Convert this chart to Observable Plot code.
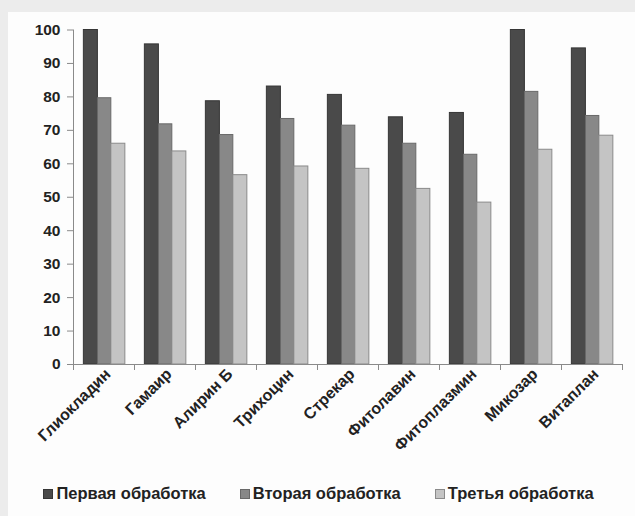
<!DOCTYPE html>
<html>
<head>
<meta charset="utf-8">
<script src="https://cdn.jsdelivr.net/npm/d3@7"></script>
<script src="https://cdn.jsdelivr.net/npm/@observablehq/plot@0.6"></script>
<style>
  html, body { margin: 0; padding: 0; background: #ececec; }
  body { width: 635px; height: 516px; overflow: hidden; position: relative; }
  #panel { position: absolute; left: 8px; top: 12px; width: 627px; height: 504px; background: #fdfdfd; }
  #legend { display: flex; justify-content: center; gap: 34px; margin-top: 6px; margin-left: -6px;
    font: bold 16.5px "Liberation Sans", Arial, sans-serif; color: #222; }
  #legend .item { display: flex; align-items: center; gap: 3px; }
  #legend .sw { width: 10px; height: 10px; box-sizing: border-box; border: 1px solid #666; }
</style>
</head>
<body>
<div id="panel"><div id="chart"></div><div id="legend"></div></div>
<script>
const categories = ["Глиокладин", "Гамаир", "Алирин Б", "Трихоцин", "Стрекар", "Фитолавин", "Фитоплазмин", "Микозар", "Витаплан"];
const series = ["Первая обработка", "Вторая обработка", "Третья обработка"];
const first = [100, 95.7, 78.7, 83.1, 80.6, 73.9, 75.2, 100, 94.5];
const second = [79.6, 71.8, 68.6, 73.4, 71.4, 66, 62.7, 81.5, 74.3];
const third = [66, 63.7, 56.6, 59.2, 58.5, 52.5, 48.4, 64.2, 68.4];
const yTicks = [0, 10, 20, 30, 40, 50, 60, 70, 80, 90, 100];

const fills = ["#4a4a4a", "#888888", "#c4c4c4"];
const strokes = ["#363636", "#696969", "#8a8a8a"];

const values = [first, second, third];
const rows = series.map((s, si) => categories.map((c, ci) => ({category: c, series: s, value: values[si][ci]})));

const W = 627, H = 466, ML = 65, MR = 13, MT = 17.5, MB = 114;
const bw = (W - ML - MR) / categories.length;
// bar slots within each category band (fractions of the band)
const slots = [[0.17, 0.40], [0.40, 0.62], [0.62, 0.85]];

const font = "'Liberation Sans', Arial, sans-serif";

const marks = [];
rows.forEach((data, si) => {
  marks.push(Plot.barY(data, {
    x: "category", y: "value",
    fill: fills[si], stroke: strokes[si], strokeWidth: 1,
    insetLeft: slots[si][0] * bw, insetRight: (1 - slots[si][1]) * bw
  }));
});
marks.push(Plot.ruleY([0], {stroke: "#8a8a8a"}));
marks.push(Plot.frame({anchor: "left", stroke: "#8a8a8a"}));
marks.push(Plot.axisY({ticks: yTicks, tickSize: 6, tickPadding: 7, stroke: "#8a8a8a",
  fontSize: 15.5, fontWeight: "bold", fill: "#222", label: null}));
marks.push(Plot.axisX({tickSize: 6, tickFormat: () => "", dx: -bw / 2, stroke: "#8a8a8a", label: null}));
marks.push(Plot.axisX({tickSize: 6, tickFormat: () => "", dx: bw / 2, stroke: "#8a8a8a", label: null}));
marks.push(Plot.axisX({tickSize: 0, tickPadding: 7, tickRotate: -45, fontSize: 16, fontWeight: "bold",
  fill: "#222", label: null, dx: 4}));

const chart = Plot.plot({
  width: W, height: H,
  marginLeft: ML, marginRight: MR, marginTop: MT, marginBottom: MB,
  style: {fontFamily: font, background: "transparent", color: "#222"},
  x: {domain: categories, padding: 0},
  y: {domain: [0, 100]},
  marks
});
document.getElementById("chart").appendChild(chart);

const legend = document.getElementById("legend");
series.forEach((s, i) => {
  const item = document.createElement("div");
  item.className = "item";
  const sw = document.createElement("span");
  sw.className = "sw";
  sw.style.background = fills[i];
  sw.style.borderColor = strokes[i];
  const t = document.createElement("span");
  t.textContent = s;
  item.appendChild(sw); item.appendChild(t);
  legend.appendChild(item);
});
</script>
</body>
</html>
